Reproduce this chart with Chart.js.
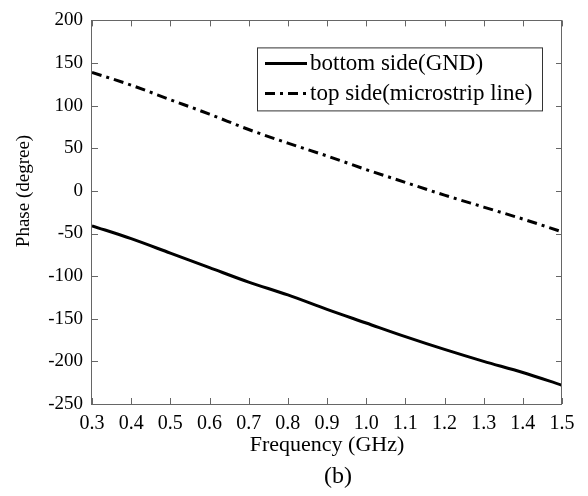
<!DOCTYPE html>
<html>
<head>
<meta charset="utf-8">
<title>Phase vs Frequency</title>
<script src="https://cdn.jsdelivr.net/npm/chart.js@4.4.1/dist/chart.umd.min.js"></script>
<style>
    html, body { margin: 0; padding: 0; background: #FFFFFF; }
    #wrap { width: 588px; height: 496px; }
</style>
</head>
<body>
<div id="wrap"><canvas id="phaseChart" width="588" height="496"></canvas></div>
<script>
// Data
const freqGHz = [0.3, 0.4, 0.5, 0.6, 0.7, 0.8, 0.9, 1.0, 1.1, 1.2, 1.3, 1.4, 1.5];
const bottomSidePhase = [-41, -56, -73, -90, -107, -122, -139, -155, -171, -186, -200, -213, -228];
const topSidePhase = [139, 124, 107, 90, 72, 56, 41, 25, 10, -5, -19, -33, -48];

const seriesLabels = ['bottom side(GND)', 'top side(microstrip line)'];
const xTitle = 'Frequency (GHz)';
const yTitle = 'Phase (degree)';
const caption = '(b)';

const SERIF = '"Liberation Serif", "Times New Roman", serif';

const toPoints = (xs, ys) => xs.map((x, i) => ({ x: x, y: ys[i] }));

// Box around the plot with inward ticks on all four sides (MATLAB look)
const boxAxes = {
    id: 'boxAxes',
    afterDraw(chart) {
        const { ctx, chartArea: a, scales } = chart;
        const tick = 6;
        ctx.save();
        ctx.strokeStyle = '#666666';
        ctx.lineWidth = 1;
        ctx.strokeRect(Math.round(a.left) - 0.5, Math.round(a.top) + 0.5,
            Math.round(a.right - a.left), Math.round(a.bottom - a.top));
        ctx.beginPath();
        scales.x.ticks.forEach(t => {
            const px = Math.round(scales.x.getPixelForValue(t.value)) + 0.5;
            ctx.moveTo(px, a.bottom); ctx.lineTo(px, a.bottom - tick);
            ctx.moveTo(px, a.top); ctx.lineTo(px, a.top + tick);
        });
        scales.y.ticks.forEach(t => {
            const py = Math.round(scales.y.getPixelForValue(t.value)) + 0.5;
            ctx.moveTo(a.left, py); ctx.lineTo(a.left + tick, py);
            ctx.moveTo(a.right, py); ctx.lineTo(a.right - tick, py);
        });
        ctx.stroke();
        ctx.restore();
    }
};

// Legend box inside the plot, upper right
const boxLegend = {
    id: 'boxLegend',
    afterDraw(chart) {
        const { ctx, chartArea: a } = chart;
        const w = 285, h = 63;
        const x0 = a.right - 20 - w;
        const y0 = a.top + 27;
        ctx.save();
        ctx.fillStyle = '#FFFFFF';
        ctx.fillRect(x0, y0, w, h);
        ctx.strokeStyle = '#333333';
        ctx.lineWidth = 1;
        ctx.strokeRect(x0 + 0.5, y0 + 0.5, w, h);
        ctx.font = '23px ' + SERIF;
        ctx.textBaseline = 'middle';
        ctx.fillStyle = '#000000';
        chart.data.datasets.forEach((ds, i) => {
            const y = y0 + 16 + i * 30;
            ctx.beginPath();
            ctx.strokeStyle = ds.borderColor;
            ctx.lineWidth = ds.borderWidth;
            ctx.setLineDash(ds.borderDash || []);
            ctx.moveTo(x0 + 8, y);
            ctx.lineTo(x0 + 50, y);
            ctx.stroke();
            ctx.setLineDash([]);
            ctx.fillText(ds.label, x0 + 53, y + 1);
        });
        ctx.restore();
    }
};

// Y axis title and figure caption
const captions = {
    id: 'captions',
    afterDraw(chart) {
        const { ctx } = chart;
        ctx.save();
        ctx.fillStyle = '#000000';
        ctx.textAlign = 'center';
        ctx.textBaseline = 'middle';
        ctx.font = '19px ' + SERIF;
        ctx.translate(24, 191);
        ctx.rotate(-Math.PI / 2);
        ctx.fillText(yTitle, 0, 0);
        ctx.restore();

        ctx.save();
        ctx.fillStyle = '#000000';
        ctx.textAlign = 'center';
        ctx.textBaseline = 'middle';
        ctx.font = '24px ' + SERIF;
        ctx.fillText(caption, 338, 477);
        ctx.restore();
    }
};

new Chart(document.getElementById('phaseChart'), {
    type: 'line',
    data: {
        datasets: [{
            label: seriesLabels[0],
            data: toPoints(freqGHz, bottomSidePhase),
            borderColor: '#000000',
            borderWidth: 3,
            pointRadius: 0,
            cubicInterpolationMode: 'monotone',
            fill: false
        }, {
            label: seriesLabels[1],
            data: toPoints(freqGHz, topSidePhase),
            borderColor: '#000000',
            borderWidth: 3,
            borderDash: [10, 5, 3, 5],
            pointRadius: 0,
            cubicInterpolationMode: 'monotone',
            fill: false
        }]
    },
    options: {
        responsive: false,
        animation: false,
        layout: { padding: { top: 20, right: 26, left: 0, bottom: 0 } },
        plugins: {
            legend: { display: false },
            tooltip: { enabled: false }
        },
        scales: {
            x: {
                type: 'linear',
                min: 0.3,
                max: 1.5,
                grid: { display: false, drawTicks: false },
                border: { display: false },
                ticks: {
                    stepSize: 0.1,
                    autoSkip: false,
                    maxRotation: 0,
                    padding: 8,
                    color: '#000000',
                    font: { family: SERIF, size: 20 },
                    callback: v => v.toFixed(1)
                },
                title: {
                    display: true,
                    text: xTitle,
                    color: '#000000',
                    font: { family: SERIF, size: 22 },
                    padding: { top: 0, bottom: 38 }
                },
                afterFit: s => { s.height = 92; }
            },
            y: {
                min: -250,
                max: 200,
                grid: { display: false, drawTicks: false },
                border: { display: false },
                ticks: {
                    stepSize: 50,
                    padding: 9,
                    color: '#000000',
                    font: { family: SERIF, size: 19 }
                },
                afterFit: s => { s.width = 92; }
            }
        }
    },
    plugins: [boxAxes, boxLegend, captions]
});
</script>
</body>
</html>
